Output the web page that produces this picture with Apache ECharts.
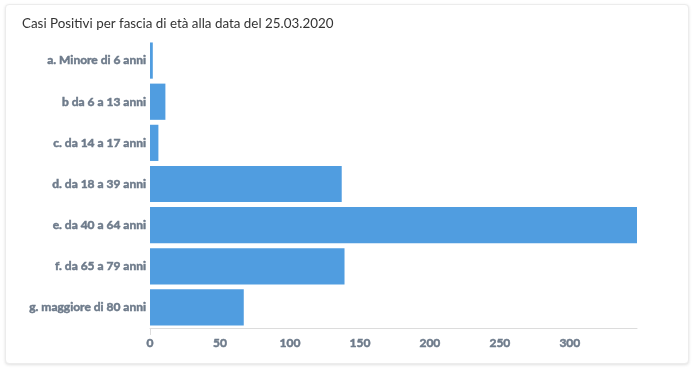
<!DOCTYPE html>
<html>
<head>
<meta charset="utf-8">
<script src="https://cdn.jsdelivr.net/npm/echarts@6/dist/echarts.min.js"></script>
<style>
html,body{margin:0;padding:0;background:#fff;}
#card{position:absolute;left:5px;top:4px;width:682px;height:358px;border:1px solid #ececec;border-radius:4px;box-shadow:0 1px 3px rgba(0,0,0,0.12);background:#fff;}
#chart{position:absolute;left:0;top:0;width:694px;height:370px;}
</style>
</head>
<body>
<div id="card"></div>
<div id="chart"></div>
<script>
const categories = ["a. Minore di 6 anni","b da 6 a 13 anni","c. da 14 a 17 anni","d. da 18 a 39 anni","e. da 40 a 64 anni","f. da 65 a 79 anni","g. maggiore di 80 anni"];
const values = [2, 11, 6, 137, 348, 139, 67];
const titleText = "Casi Positivi per fascia di età alla data del 25.03.2020";

const maxVal = Math.max(...values);
const chart = echarts.init(document.getElementById('chart'));
chart.setOption({
  backgroundColor: 'transparent',
  animation: false,
  title: {
    text: titleText,
    left: 17, top: 12,
    textStyle: {fontFamily: 'Lato', fontSize: 13.4, fontWeight: 'normal', color: '#333'}
  },
  grid: {left: 150, right: 57, top: 40, bottom: 42, containLabel: false},
  xAxis: {
    type: 'value', min: 0, max: maxVal, interval: 50,
    splitLine: {show: false},
    axisLine: {show: true, lineStyle: {color: '#dcdcdc', width: 1}},
    axisTick: {show: true, customValues: [0, maxVal], length: 7, lineStyle: {color: '#dcdcdc'}},
    axisLabel: {showMaxLabel: false, fontFamily: 'Lato', fontWeight: 'bold', fontSize: 12, color: '#6e7b8b', margin: 9, textBorderColor: '#6e7b8b', textBorderWidth: 0.5}
  },
  yAxis: {
    type: 'category', data: categories, inverse: true,
    axisLine: {show: false}, axisTick: {show: false},
    axisLabel: {fontFamily: 'Lato', fontWeight: 'bold', fontSize: 12, color: '#6e7b8b', margin: 4, textBorderColor: '#6e7b8b', textBorderWidth: 0.5}
  },
  series: [{
    type: 'bar', data: values, barCategoryGap: '12%',
    itemStyle: {color: '#509de0'}
  }]
});
</script>
</body>
</html>
